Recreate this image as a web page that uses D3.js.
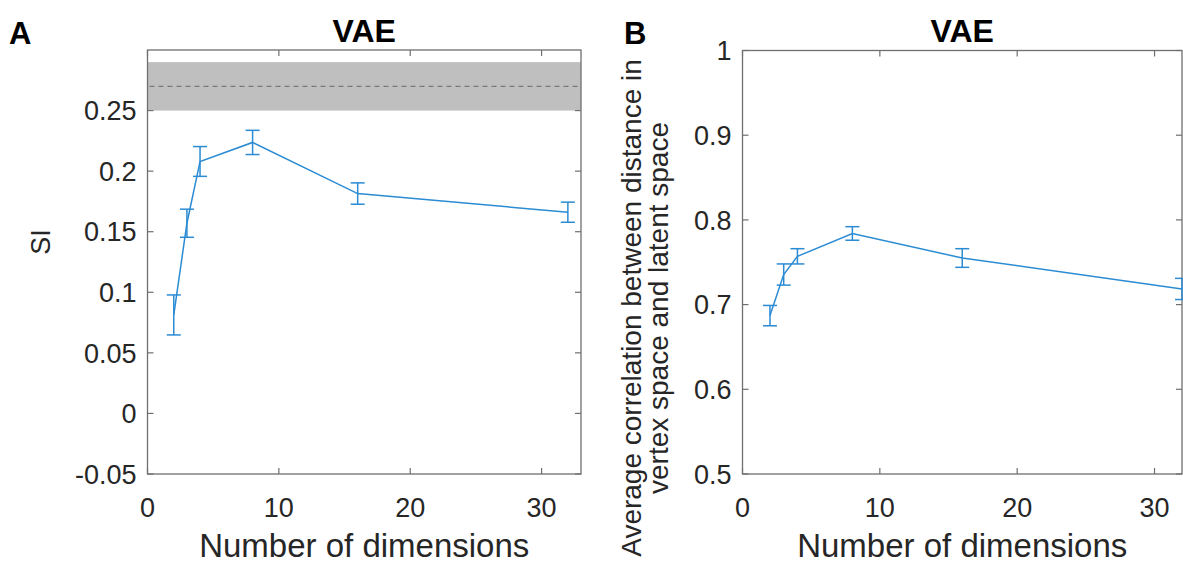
<!DOCTYPE html>
<html>
<head>
<meta charset="utf-8">
<script src="https://cdn.jsdelivr.net/npm/d3@7/dist/d3.min.js"></script>
<style>
  html, body { margin: 0; padding: 0; background: #fff; }
  svg text { font-family: "Liberation Sans", Arial, Helvetica, sans-serif; fill: #262626; }
</style>
</head>
<body>
<div id="chart"></div>
<script>
// dimensions of the latent space
const dims = [2, 3, 4, 8, 16, 32];

// panel A: SI (mean +- error)
const siMean = [0.0813, 0.157, 0.208, 0.2237, 0.1815, 0.1661];
const siErr = [0.0165, 0.0116, 0.0123, 0.0100, 0.0088, 0.0083];
// reference level (dashed) with its shaded band
const siRef = 0.27;
const siRefBand = [0.25, 0.29];

// panel B: average correlation (mean +- error)
const corrMean = [0.687, 0.7355, 0.757, 0.784, 0.755, 0.7185];
const corrErr = [0.012, 0.0125, 0.009, 0.008, 0.011, 0.0125];

const xTicks = [0, 10, 20, 30];
const siTicks = [-0.05, 0, 0.05, 0.1, 0.15, 0.2, 0.25];
const siTickLabels = ['-0.05', '0', '0.05', '0.1', '0.15', '0.2', '0.25'];
const corrTicks = [0.5, 0.6, 0.7, 0.8, 0.9, 1];
const corrTickLabels = ['0.5', '0.6', '0.7', '0.8', '0.9', '1'];

const W = 1183, H = 563;
const axisColor = '#6f6f6f';
const lineColor = '#2b8bd3';

const svg = d3.select('#chart').append('svg')
  .attr('width', W)
  .attr('height', H);

function drawPanel(opts) {
  const x = d3.scaleLinear().domain(opts.xDomain).range([opts.left, opts.right]);
  const y = d3.scaleLinear().domain(opts.yDomain).range([opts.bottom, opts.top]);
  const g = svg.append('g');

  // shaded reference band + dashed line
  if (opts.band) {
    g.append('rect')
      .attr('x', x(opts.xDomain[0]))
      .attr('y', y(opts.band[1]))
      .attr('width', x(opts.xDomain[1]) - x(opts.xDomain[0]))
      .attr('height', y(opts.band[0]) - y(opts.band[1]))
      .attr('fill', '#bfbfbf');
    g.append('line')
      .attr('x1', x(opts.xDomain[0]) + 2)
      .attr('x2', x(opts.xDomain[1]) - 2)
      .attr('y1', y(opts.ref))
      .attr('y2', y(opts.ref))
      .attr('stroke', '#7a7a7a')
      .attr('stroke-width', 1.2)
      .attr('stroke-dasharray', '5,4');
  }

  // ticks on all four sides, pointing inward
  const tl = 6;
  opts.xTicks.forEach(t => {
    g.append('line').attr('x1', x(t)).attr('x2', x(t))
      .attr('y1', opts.bottom).attr('y2', opts.bottom - tl)
      .attr('stroke', axisColor).attr('stroke-width', 1.2);
    g.append('line').attr('x1', x(t)).attr('x2', x(t))
      .attr('y1', opts.top).attr('y2', opts.top + tl)
      .attr('stroke', axisColor).attr('stroke-width', 1.2);
    g.append('text')
      .attr('x', x(t))
      .attr('y', 517)
      .attr('text-anchor', 'middle')
      .style('font-size', '27px')
      .text(t);
  });
  opts.yTicks.forEach((t, i) => {
    g.append('line').attr('x1', opts.left).attr('x2', opts.left + tl)
      .attr('y1', y(t)).attr('y2', y(t))
      .attr('stroke', axisColor).attr('stroke-width', 1.2);
    g.append('line').attr('x1', opts.right).attr('x2', opts.right - tl)
      .attr('y1', y(t)).attr('y2', y(t))
      .attr('stroke', axisColor).attr('stroke-width', 1.2);
    g.append('text')
      .attr('x', opts.left - 11)
      .attr('y', y(t))
      .attr('dy', '0.36em')
      .attr('text-anchor', 'end')
      .style('font-size', '27px')
      .text(opts.yTickLabels[i]);
  });

  // box
  g.append('rect')
    .attr('x', opts.left).attr('y', opts.top)
    .attr('width', opts.right - opts.left)
    .attr('height', opts.bottom - opts.top)
    .attr('fill', 'none')
    .attr('stroke', axisColor)
    .attr('stroke-width', 1.3);

  // data line
  const pts = dims.map((d, i) => ({ x: d, m: opts.mean[i], e: opts.err[i] }));
  g.append('path')
    .datum(pts)
    .attr('fill', 'none')
    .attr('stroke', lineColor)
    .attr('stroke-width', 1.5)
    .attr('d', d3.line().x(d => x(d.x)).y(d => y(d.m)));

  // error bars
  const cap = 7;
  const eb = g.selectAll('.eb').data(pts).enter().append('g')
    .attr('stroke', lineColor).attr('stroke-width', 1.5);
  eb.append('line')
    .attr('x1', d => x(d.x)).attr('x2', d => x(d.x))
    .attr('y1', d => y(d.m - d.e)).attr('y2', d => y(d.m + d.e));
  eb.append('line')
    .attr('x1', d => x(d.x) - cap).attr('x2', d => x(d.x) + cap)
    .attr('y1', d => y(d.m + d.e)).attr('y2', d => y(d.m + d.e));
  eb.append('line')
    .attr('x1', d => x(d.x) - cap).attr('x2', d => x(d.x) + cap)
    .attr('y1', d => y(d.m - d.e)).attr('y2', d => y(d.m - d.e));

  // title, panel letter, x label
  svg.append('text')
    .attr('x', (opts.left + opts.right) / 2)
    .attr('y', 42)
    .attr('text-anchor', 'middle')
    .style('font-size', '32px')
    .style('font-weight', 'bold')
    .style('fill', '#000')
    .text('VAE');
  svg.append('text')
    .attr('x', opts.letterX)
    .attr('y', 44)
    .style('font-size', '31px')
    .style('font-weight', 'bold')
    .style('fill', '#000')
    .text(opts.letter);
  svg.append('text')
    .attr('x', (opts.left + opts.right) / 2)
    .attr('y', 557)
    .attr('text-anchor', 'middle')
    .style('font-size', '33px')
    .text('Number of dimensions');

  // y label (one or more lines)
  const yl = svg.append('text')
    .attr('transform', `translate(${opts.yLabelX},${opts.yLabelY}) rotate(-90)`)
    .attr('text-anchor', 'middle')
    .style('font-size', opts.yLabelSize);
  opts.yLabel.forEach((s, i) => {
    yl.append('tspan')
      .attr('x', 0)
      .attr('y', i * opts.yLabelGap)
      .text(s);
  });
}

drawPanel({
  left: 147.5, right: 581, top: 50, bottom: 474,
  xDomain: [0, 33], yDomain: [-0.05, 0.3],
  xTicks: xTicks, yTicks: siTicks, yTickLabels: siTickLabels,
  mean: siMean, err: siErr,
  band: siRefBand, ref: siRef,
  letter: 'A', letterX: 9,
  yLabel: ['SI'], yLabelX: 50, yLabelY: 242, yLabelGap: 0, yLabelSize: '27px'
});

drawPanel({
  left: 742.5, right: 1182, top: 50.5, bottom: 474,
  xDomain: [0, 32], yDomain: [0.5, 1],
  xTicks: xTicks, yTicks: corrTicks, yTickLabels: corrTickLabels,
  mean: corrMean, err: corrErr,
  letter: 'B', letterX: 624,
  yLabel: ['Average correlation between distance in', 'vertex space and latent space'],
  yLabelX: 641, yLabelY: 308, yLabelGap: 27, yLabelSize: '28px'
});
</script>
</body>
</html>
